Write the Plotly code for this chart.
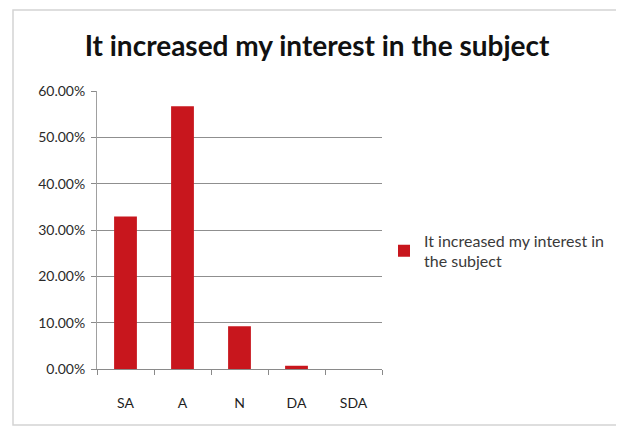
import plotly.graph_objects as go

categories = ["SA", "A", "N", "DA", "SDA"]
values = [0.329, 0.567, 0.092, 0.007, 0.0]
series_name = "It increased my interest in<br>the subject"
title_text = "It increased my interest in the subject"
y_ticks = [0, 0.1, 0.2, 0.3, 0.4, 0.5, 0.6]

# the page places the figure 8px in from the top-left corner
OFF = 8
W, H = 624, 428
L = 97 - OFF
T = 91 - OFF
R = W - (382 - OFF)
B = H - (369 - OFF)
pw = W - L - R
ph = H - T - B

def px_x(x):
    return (x - OFF - L) / pw

def px_y(y):
    return (H - B - (y - OFF)) / ph

fig = go.Figure()
fig.add_trace(go.Bar(
    x=categories, y=values, name=series_name,
    marker=dict(color="#C8161D", line=dict(color="#9E1016", width=0)),
    showlegend=True,
))

fig.update_layout(
    width=W, height=H,
    margin=dict(l=L, r=R, t=T, b=B, pad=0),
    paper_bgcolor="white", plot_bgcolor="white",
    font=dict(family="Lato", color="#333333", size=12),
    bargap=0.6,
    title=dict(text=title_text, x=(317 - OFF) / W, xanchor="center", xref="container",
               y=1 - (46 - OFF) / H, yanchor="middle", yref="container",
               font=dict(family="Lato", size=28, color="#111111", weight="bold")),
    xaxis=dict(showline=True, linecolor="#8a8a8a", linewidth=1,
               ticks="outside", tickson="boundaries", ticklen=5, tickcolor="#8a8a8a",
               ticklabelstandoff=21, tickfont=dict(size=14, color="#1e1e1e"),
               showgrid=False),
    yaxis=dict(range=[0, 0.6], tickvals=y_ticks, tickformat=".2%",
               showline=True, linecolor="#a0a0a0", linewidth=1,
               ticks="outside", ticklen=5, tickcolor="#8a8a8a",
               ticklabelstandoff=3,
               showgrid=True, gridcolor="#8f8f8f", gridwidth=1,
               zeroline=False, tickfont=dict(size=14, color="#2a2a2a")),
    legend=dict(x=px_x(384), xanchor="left", y=px_y(251), yanchor="middle",
                font=dict(size=16, color="#3a3a3a"), itemsizing="constant",
                bgcolor="rgba(0,0,0,0)", tracegroupgap=0),
    shapes=[dict(type="rect", xref="paper", yref="paper",
                 x0=px_x(13), x1=px_x(617), y0=px_y(425), y1=px_y(10),
                 line=dict(color="#d4d4d4", width=1.5), fillcolor="rgba(0,0,0,0)",
                 layer="below")],
)

fig.write_html("out.html")
